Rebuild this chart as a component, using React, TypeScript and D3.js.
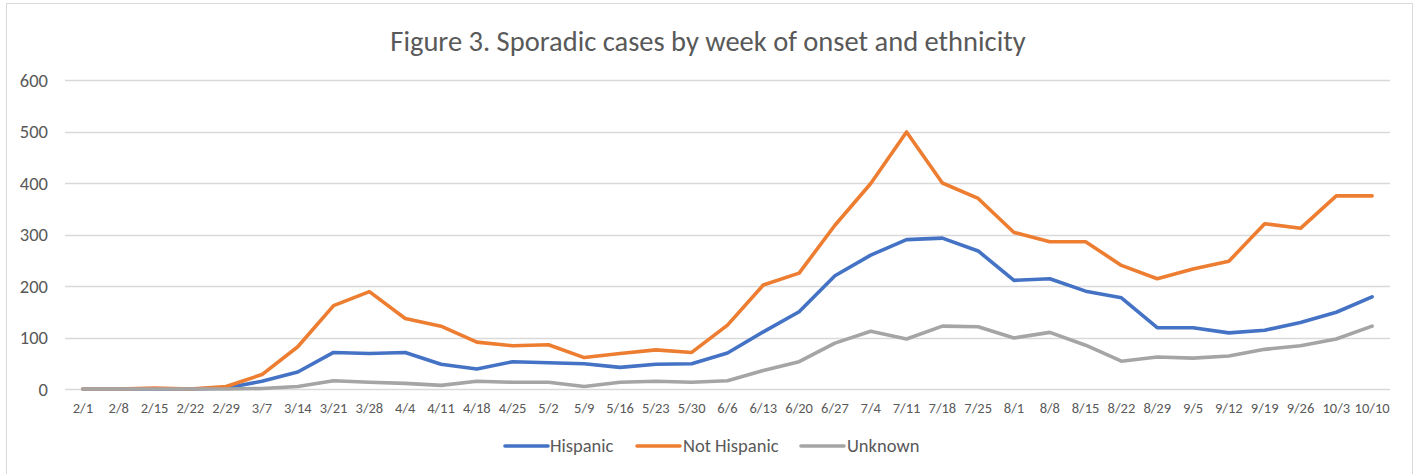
import React from "react";
import * as d3 from "d3";

const categories = ["2/1","2/8","2/15","2/22","2/29","3/7","3/14","3/21","3/28","4/4","4/11","4/18","4/25","5/2","5/9","5/16","5/23","5/30","6/6","6/13","6/20","6/27","7/4","7/11","7/18","7/25","8/1","8/8","8/15","8/22","8/29","9/5","9/12","9/19","9/26","10/3","10/10"];
const hispanic = [0,0,0,0,2,15,33,71,69,71,48,39,53,51,49,42,48,49,70,111,150,220,260,290,293,268,211,214,190,177,119,119,109,114,129,149,179];
const notHispanic = [0,0,2,0,5,28,82,162,189,137,122,91,84,86,61,69,76,71,124,202,225,318,399,499,400,370,304,286,286,240,214,233,248,321,312,375,375];
const unknown = [0,0,0,0,0,1,5,16,13,11,7,15,13,13,5,13,15,13,16,36,53,89,112,97,122,121,99,110,85,54,62,60,64,77,84,97,122];
const yTicks = [0,100,200,300,400,500,600];
const title = "Figure 3. Sporadic cases by week of onset and ethnicity";

const seriesList = [
  { name: "Hispanic", values: hispanic, color: "#4472C4" },
  { name: "Not Hispanic", values: notHispanic, color: "#ED7D31" },
  { name: "Unknown", values: unknown, color: "#A5A5A5" },
];

const W = 1416, H = 474;
const plot = { left: 65, right: 1390, top: 80, bottom: 389 };
const font = "Calibri, Carlito, 'Open Sans', 'Liberation Sans', sans-serif";

export default function App() {
  const x = d3.scaleBand<string>().domain(categories).range([plot.left, plot.right]);
  const y = d3.scaleLinear().domain([0, 600]).range([plot.bottom, plot.top]);
  const cx = (c: string) => (x(c) as number) + x.bandwidth() / 2;
  const legendItems = [
    { x: 505, tx: 550 },
    { x: 637, tx: 683 },
    { x: 801, tx: 847 },
  ];
  return (
    <svg width={W} height={H} style={{ position: "absolute", left: 0, top: 0, background: "#fff" }} fontFamily={font}>
      <rect x={6.5} y={3.5} width={1406} height={472} fill="#fff" stroke="#d9d9d9" />
      <text x={708} y={51} textAnchor="middle" fontSize={28.5} fill="#595959">{title}</text>
      {yTicks.map((t) => (
        <g key={t}>
          <line x1={plot.left} x2={plot.right} y1={Math.round(y(t)) + 0.5} y2={Math.round(y(t)) + 0.5} stroke="#d9d9d9" strokeWidth={1.3} />
          <text x={48} y={y(t) + 6.5} textAnchor="end" fontSize={18.5} fill="#595959">{t}</text>
        </g>
      ))}
      {categories.map((c) => (
        <text key={c} x={cx(c)} y={412.5} textAnchor="middle" fontSize={14.5} fill="#595959">{c}</text>
      ))}
      {seriesList.map((s) => {
        const line = d3.line<number>().x((_, i) => cx(categories[i])).y((v) => y(v));
        return (
          <path key={s.name} d={line(s.values) || ""} fill="none" stroke={s.color} strokeWidth={3.6} strokeLinejoin="round" strokeLinecap="round" />
        );
      })}
      {seriesList.map((s, i) => (
        <g key={s.name}>
          <line x1={legendItems[i].x} x2={legendItems[i].x + 43} y1={446} y2={446} stroke={s.color} strokeWidth={3.6} strokeLinecap="round" />
          <text x={legendItems[i].tx} y={452} fontSize={18.5} fill="#595959">{s.name}</text>
        </g>
      ))}
    </svg>
  );
}
